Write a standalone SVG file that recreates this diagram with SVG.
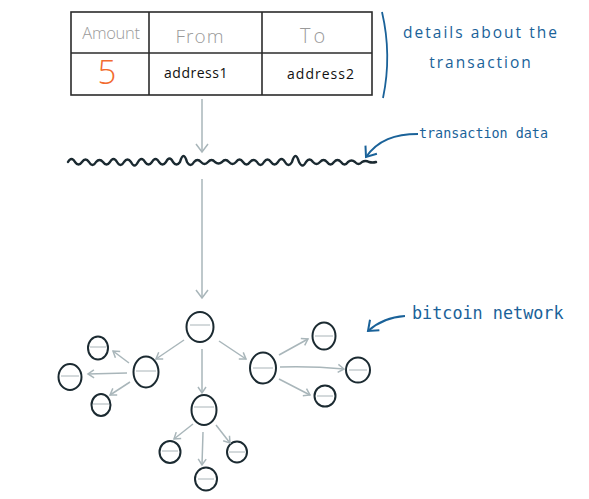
<svg xmlns="http://www.w3.org/2000/svg" width="589" height="499" viewBox="0 0 589 499">
<style>
.cell{fill:none;stroke:#2b2b2b;stroke-width:1.6}
.hdr{font-family:"Open Sans","Liberation Sans",sans-serif;font-weight:300;fill:#9a9a9a;text-anchor:middle}
.val{font-family:"Open Sans","Liberation Sans",sans-serif;fill:#111;text-anchor:middle;font-size:14px}
.hand{font-family:"Open Sans","Liberation Sans",sans-serif;fill:#1a6299;font-size:15.5px;text-anchor:middle;letter-spacing:2px}
.mono{font-family:"DejaVu Sans Mono",monospace;fill:#1a6299}
.node{fill:none;stroke:#1b2a31;stroke-width:2}
.mid{stroke:#a9b4b8;stroke-width:1}
.ga{fill:none;stroke:#a9b6ba;stroke-width:1.5;marker-end:url(#gh)}
.gb{fill:none;stroke:#a9b6ba;stroke-width:1.5;marker-end:url(#gbh)}
.ba{fill:none;stroke:#1a6299;stroke-width:2;marker-end:url(#bh)}
</style>
<defs>
<marker id="gh" markerUnits="userSpaceOnUse" markerWidth="14" markerHeight="14" refX="7" refY="5" orient="auto" viewBox="0 0 14 10"><path d="M1,1 L7,5 L1,9" fill="none" stroke="#a9b6ba" stroke-width="1.5"/></marker>
<marker id="gbh" markerUnits="userSpaceOnUse" markerWidth="16" markerHeight="16" refX="9" refY="7" orient="auto" viewBox="0 0 16 14"><path d="M1,1 L9,7 L1,13" fill="none" stroke="#a9b6ba" stroke-width="1.5"/></marker>
<marker id="bh" markerUnits="userSpaceOnUse" markerWidth="18" markerHeight="18" refX="10" refY="8" orient="auto" viewBox="0 0 18 16"><path d="M1,1 L10,8 L1,15" fill="none" stroke="#1a6299" stroke-width="2"/></marker>
</defs>

<g id="table">
<rect class="cell" x="71" y="12" width="301" height="83"/>
<line class="cell" x1="71" y1="53" x2="372" y2="53"/>
<line class="cell" x1="149" y1="12" x2="149" y2="95"/>
<line class="cell" x1="262" y1="12" x2="262" y2="95"/>
<text class="hdr" x="111" y="39" font-size="16.5" letter-spacing="-0.3">Amount</text>
<text class="hdr" x="200" y="43" font-size="19" letter-spacing="1">From</text>
<text class="hdr" x="314" y="43" font-size="20" letter-spacing="3">To</text>
<text x="107" y="84" font-family="Open Sans, Liberation Sans, sans-serif" font-weight="300" font-size="33" fill="#f26b2e" text-anchor="middle">5</text>
<text class="val" x="196" y="78" letter-spacing="0.5">address1</text>
<text class="val" x="321" y="79" letter-spacing="1">address2</text>
</g>

<g id="details">
<path d="M382,12 Q392,55 383,98" fill="none" stroke="#1a6299" stroke-width="1.8"/>
<text class="hand" x="481" y="38">details about the</text>
<text class="hand" x="481" y="68">transaction</text>
</g>

<g id="transaction-data">
<path d="M68,162 q3.5,-6 7,0 q3.5,5 7,0 q3.5,-5 7,0 q3.5,6 7,0 q3.5,-4 7,0 q3.5,5 7,0 q3.5,-6 7,0 q3.5,6 7,0 q3.5,-5 7,0 q3.5,7 7,0 q3.5,-6 7,0 q3.5,5 7,0 q3.5,-6 7,0 q3.5,5 7,0 q3.5,-7 7,0 q3.5,5 7,0 q3.5,-12 7,0 q3.5,6 7,0 q3.5,-4 7,0 q3.5,4 7,0 q3.5,-4 7,0 q3.5,3 7,0 q3.5,-4 7,0 q3.5,4 7,0 q3.5,-5 7,0 q3.5,5 7,0 q3.5,-4 7,0 q3.5,6 7,0 q3.5,-5 7,0 q3.5,5 7,0 q3.5,-6 7,0 q3.5,6 7,0 q3.5,-12 7,0 q3.5,7 7,0 q3.5,-5 7,0 q3.5,4 7,0 q3.5,-4 7,0 q3.5,5 7,0 q3.5,-4 7,0 q3.5,5 7,0 q3.5,-3 7,0 q3.5,4 7,0 q3.5,-2 7,0 q3.5,1 7,0" fill="none" stroke="#1b2a31" stroke-width="2.4" stroke-linecap="round" stroke-linejoin="round"/>
<text class="mono" x="419" y="138" font-size="13.4">transaction data</text>
</g>

<g id="network-label">
<text class="mono" x="412" y="319" font-size="16.8">bitcoin network</text>
</g>

<g id="n-root"><ellipse class="node" cx="200" cy="327" rx="13.5" ry="15"/><line class="mid" x1="190" y1="325" x2="210" y2="325"/></g>
<g id="n-left"><ellipse class="node" cx="146" cy="372" rx="12.5" ry="15.5"/><line class="mid" x1="136" y1="371" x2="156" y2="371"/></g>
<g id="n-right"><ellipse class="node" cx="263" cy="368" rx="13" ry="15.5"/><line class="mid" x1="253" y1="368" x2="273" y2="368"/></g>
<g id="n-down"><ellipse class="node" cx="204" cy="410" rx="12.5" ry="15"/><line class="mid" x1="194" y1="407" x2="214" y2="407"/></g>
<g id="n-l1"><ellipse class="node" cx="98" cy="348" rx="10" ry="11.5"/><line class="mid" x1="90" y1="347" x2="106" y2="347"/></g>
<g id="n-l2"><ellipse class="node" cx="70" cy="377" rx="11.5" ry="13"/><line class="mid" x1="61" y1="376" x2="79" y2="376"/></g>
<g id="n-l3"><ellipse class="node" cx="101" cy="405" rx="9.5" ry="11"/><line class="mid" x1="93" y1="404" x2="109" y2="404"/></g>
<g id="n-r1"><ellipse class="node" cx="324" cy="336" rx="11.5" ry="13.5"/><line class="mid" x1="315" y1="336" x2="333" y2="336"/></g>
<g id="n-r2"><ellipse class="node" cx="358" cy="370" rx="12" ry="12.5"/><line class="mid" x1="349" y1="370" x2="367" y2="370"/></g>
<g id="n-r3"><ellipse class="node" cx="325" cy="396" rx="10.5" ry="10.5"/><line class="mid" x1="317" y1="396" x2="333" y2="396"/></g>
<g id="n-b1"><ellipse class="node" cx="170" cy="452" rx="10.5" ry="11"/><line class="mid" x1="162" y1="451" x2="178" y2="451"/></g>
<g id="n-b2"><ellipse class="node" cx="206" cy="479" rx="11" ry="11.5"/><line class="mid" x1="198" y1="479" x2="214" y2="479"/></g>
<g id="n-b3"><ellipse class="node" cx="237" cy="452" rx="10" ry="10.5"/><line class="mid" x1="229" y1="452" x2="245" y2="452"/></g>

<g id="connectors">
<line class="gb" x1="202" y1="99" x2="202" y2="152"/>
<line class="gb" x1="202" y1="179" x2="202" y2="298"/>
<path class="ba" d="M418,134 C395,134 378,140 366,157"/>
<path class="ba" d="M405,316 C390,317 378,322 368,331"/>
<line class="ga" x1="184" y1="340" x2="156" y2="359"/>
<line class="ga" x1="219" y1="341" x2="246" y2="359"/>
<line class="ga" x1="202" y1="349" x2="202" y2="393"/>
<line class="ga" x1="129" y1="363" x2="113" y2="351"/>
<line class="ga" x1="127" y1="373" x2="88" y2="374"/>
<line class="ga" x1="130" y1="382" x2="110" y2="395"/>
<line class="ga" x1="279" y1="355" x2="308" y2="339"/>
<path class="ga" d="M280,367 Q312,366 344,369"/>
<line class="ga" x1="279" y1="379" x2="310" y2="395"/>
<line class="ga" x1="193" y1="424" x2="174" y2="439"/>
<line class="ga" x1="203" y1="432" x2="202" y2="465"/>
<line class="ga" x1="216" y1="425" x2="230" y2="443"/>
</g>
</svg>
